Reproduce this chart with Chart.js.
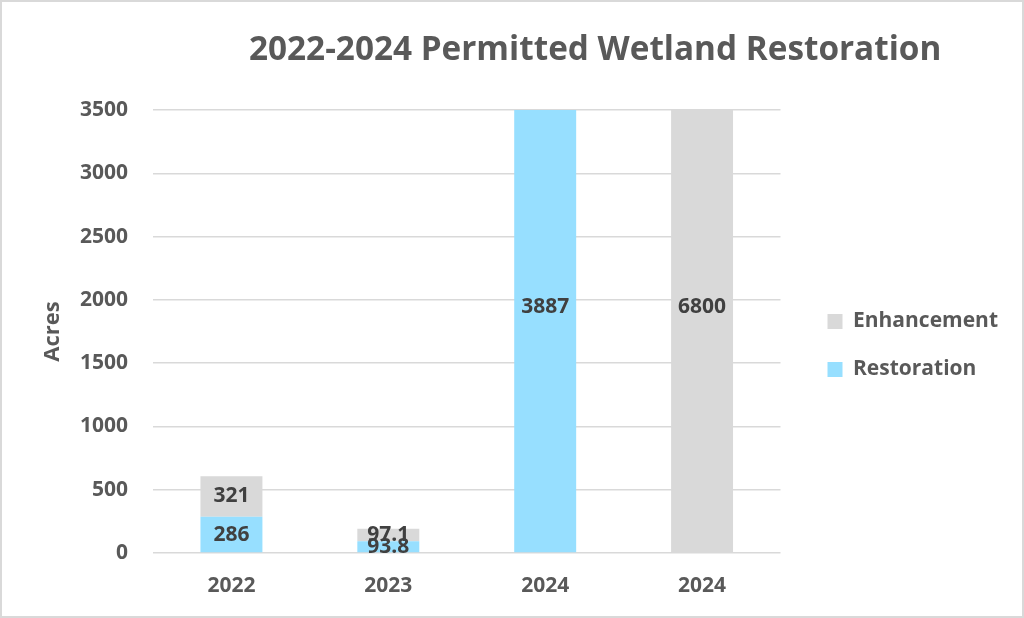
<!DOCTYPE html>
<html>
<head>
<meta charset="utf-8">
<script src="https://cdn.jsdelivr.net/npm/chart.js@4"></script>
<style>
  html, body { margin: 0; padding: 0; background: #fff; }
  #wrap { position: relative; width: 1024px; height: 618px; overflow: hidden; }
  #frame { position: absolute; inset: 0; border: 2px solid #d9d9d9; pointer-events: none; }
  #title {
    position: absolute; top: 30px; left: 0; white-space: nowrap;
    font: 700 33.3px/34px "Open Sans", sans-serif; color: #595959;
  }
</style>
</head>
<body>
<div id="wrap">
  <canvas id="chart" width="1024" height="618"></canvas>
  <div id="title">2022-2024 Permitted Wetland Restoration</div>
  <div id="frame"></div>
</div>
<script>
const years = ['2022', '2023', '2024', '2024'];
const restoration = [286, 93.8, 3887, null];
const enhancement = [321, 97.1, null, 6800];
const yTicks = { min: 0, max: 3500, step: 500 };

const FONT = '"Open Sans", sans-serif';
const TEXT = '#595959';

// place the html title: centred over x=595
const t = document.getElementById('title');
t.style.left = (595 - t.offsetWidth / 2) + 'px';

// value labels, centred in each segment (clipped bars use the visible part)
const valueLabels = {
  id: 'valueLabels',
  afterDatasetsDraw(chart) {
    const { ctx, scales: { y } } = chart;
    const cap = y.getPixelForValue(y.max * 1.11);
    ctx.save();
    ctx.font = `700 21px ${FONT}`;
    ctx.fillStyle = '#404040';
    ctx.textAlign = 'center';
    ctx.textBaseline = 'middle';
    chart.data.datasets.forEach((ds, i) => {
      chart.getDatasetMeta(i).data.forEach((bar, j) => {
        const v = ds.data[j];
        if (v == null) return;
        const top = Math.max(bar.y, cap);
        ctx.fillText(String(v), bar.x, (top + bar.base) / 2);
      });
    });
    ctx.restore();
  }
};

// the layout caps side boxes at a sixth of the width here; give the legend room
const legendRoom = {
  id: 'legendRoom',
  beforeLayout(chart) {
    const lg = chart.legend;
    if (!lg || lg._roomy) return;
    const fit = lg.fit;
    lg.fit = function () { this.maxWidth = 260; return fit.call(this); };
    lg._roomy = true;
  }
};

new Chart(document.getElementById('chart'), {
  type: 'bar',
  data: {
    labels: years,
    datasets: [
      { label: 'Restoration', data: restoration, backgroundColor: '#97dfff' },
      { label: 'Enhancement', data: enhancement, backgroundColor: '#d9d9d9' }
    ]
  },
  options: {
    responsive: false,
    animation: false,
    devicePixelRatio: 1,
    layout: { padding: { left: 2, right: 16, top: 75, bottom: 2 } },
    datasets: { bar: { categoryPercentage: 1, barPercentage: 0.395 } },
    scales: {
      x: {
        stacked: true,
        grid: { display: false, drawTicks: false },
        border: { display: false },
        ticks: { color: TEXT, padding: 20, font: { family: FONT, size: 21, weight: '700' } },
        afterFit: s => { s.height = 63; }
      },
      xTop: {
        type: 'category', position: 'top', display: true,
        grid: { display: false }, border: { display: false }, ticks: { display: false },
        afterFit: s => { s.height = 35; }
      },
      y: {
        stacked: true,
        min: yTicks.min, max: yTicks.max,
        ticks: { stepSize: yTicks.step, color: TEXT, padding: 25,
                 font: { family: FONT, size: 21, weight: '700' },
                 callback: v => String(v) },
        grid: { color: '#d9d9d9', lineWidth: 1.5, drawTicks: false },
        border: { display: false },
        title: { display: true, text: 'Acres', color: TEXT, padding: { top: 38, bottom: 0 },
                 font: { family: FONT, size: 22, weight: '700' } },
        afterFit: s => { s.width = 151; }
      },
      yRight: {
        type: 'linear', position: 'right', display: true,
        grid: { display: false }, border: { display: false }, ticks: { display: false },
        afterFit: s => { s.width = 20; }
      }
    },
    plugins: {
      legend: {
        position: 'right',
        reverse: true,
        labels: { boxWidth: 15, boxHeight: 15, padding: 27, color: TEXT,
                  font: { family: FONT, size: 21, weight: '700' } }
      },
      title: { display: false },
      tooltip: { enabled: false }
    }
  },
  plugins: [valueLabels, legendRoom]
});
</script>
</body>
</html>
